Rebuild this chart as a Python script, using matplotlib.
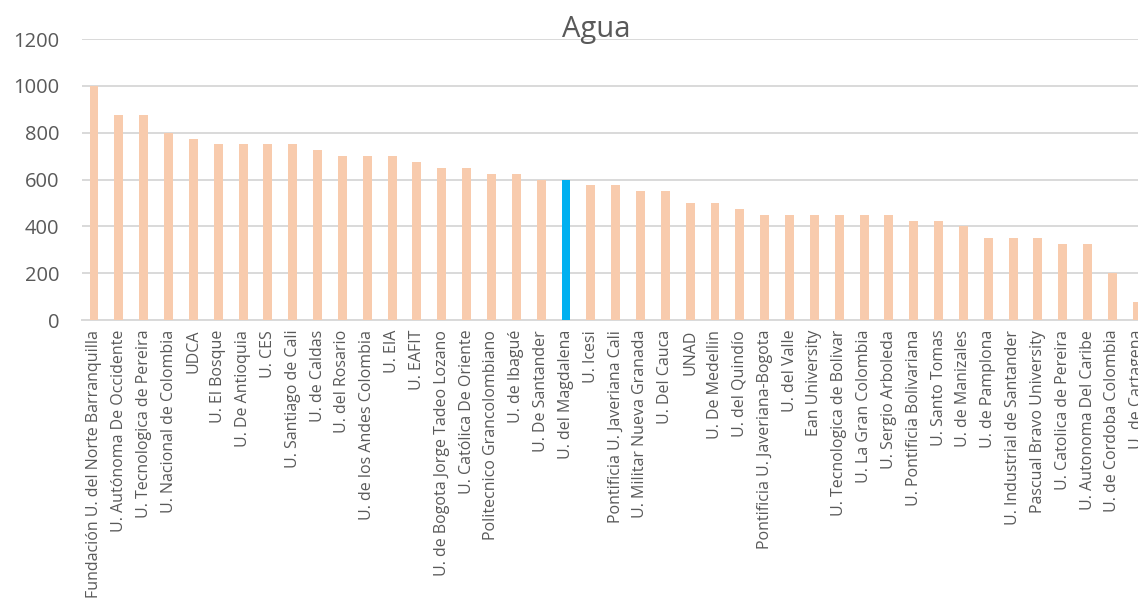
import matplotlib
import matplotlib.pyplot as plt

matplotlib.use("Agg")

plt.rcParams["font.family"] = ["Open Sans", "DejaVu Sans"]

# Chart data
universities = [
    "Fundación U. del Norte Barranquilla",
    "U. Autónoma De Occidente",
    "U. Tecnologica de Pereira",
    "U. Nacional de Colombia",
    "UDCA",
    "U. El Bosque",
    "U. De Antioquia",
    "U. CES",
    "U. Santiago de Cali",
    "U. de Caldas",
    "U. del Rosario",
    "U. de los Andes Colombia",
    "U. EIA",
    "U. EAFIT",
    "U. de Bogota Jorge Tadeo Lozano",
    "U. Católica De Oriente",
    "Politecnico Grancolombiano",
    "U. de Ibagué",
    "U. De Santander",
    "U. del Magdalena",
    "U. Icesi",
    "Pontificia U. Javeriana Cali",
    "U. Militar Nueva Granada",
    "U. Del Cauca",
    "UNAD",
    "U. De Medellin",
    "U. del Quindío",
    "Pontificia U. Javeriana-Bogota",
    "U. del Valle",
    "Ean University",
    "U. Tecnologica de Bolivar",
    "U. La Gran Colombia",
    "U. Sergio Arboleda",
    "U. Pontificia Bolivariana",
    "U. Santo Tomas",
    "U. de Manizales",
    "U. de Pamplona",
    "U. Industrial de Santander",
    "Pascual Bravo University",
    "U. Catolica de Pereira",
    "U. Autonoma Del Caribe",
    "U. de Cordoba Colombia",
    "U. de Cartagena",
]
water_scores = [
    1000, 875, 875, 800, 775, 750, 750, 750, 750, 725,
    700, 700, 700, 675, 650, 650, 625, 625, 600, 600,
    575, 575, 550, 550, 500, 500, 475, 450, 450, 450,
    450, 450, 450, 425, 425, 400, 350, 350, 350, 325,
    325, 200, 75,
]
highlight = "U. del Magdalena"

BAR_COLOR = "#F8CBAD"
HIGHLIGHT_COLOR = "#00B0F0"
GRID_COLOR = "#D9D9D9"
TEXT_COLOR = "#595959"

fig = plt.figure(figsize=(11.38, 6.05), dpi=100)
# axes run past the right edge, like the cropped original
ax = fig.add_axes([0.0717, 0.471, 0.9386, 0.4645])

colors = [HIGHLIGHT_COLOR if u == highlight else BAR_COLOR for u in universities]
x = range(len(universities))
ax.bar(x, water_scores, width=0.36, color=colors, zorder=3)

ax.set_xlim(-0.5, len(universities) - 0.5)
ax.set_ylim(0, 1200)
ax.set_yticks(range(0, 1201, 200))
ax.grid(axis="y", color=GRID_COLOR, lw=1.4, zorder=0)
ax.set_axisbelow(True)

for side in ["top", "right", "left"]:
    ax.spines[side].set_visible(False)
ax.spines["bottom"].set_color(GRID_COLOR)
ax.spines["bottom"].set_linewidth(1.4)

ax.set_xticks(list(x))
ax.set_xticklabels(universities, rotation=90, ha="center", va="top",
                   fontsize=11.5, color=TEXT_COLOR)
ax.tick_params(axis="x", length=0, pad=7)
ax.tick_params(axis="y", length=0, pad=16, labelsize=14.5, labelcolor=TEXT_COLOR)

fig.text(0.524, 0.9393, "Agua", ha="center", va="baseline",
         fontsize=21, color=TEXT_COLOR)

fig.savefig("out.png", dpi=100)
plt.close(fig)
